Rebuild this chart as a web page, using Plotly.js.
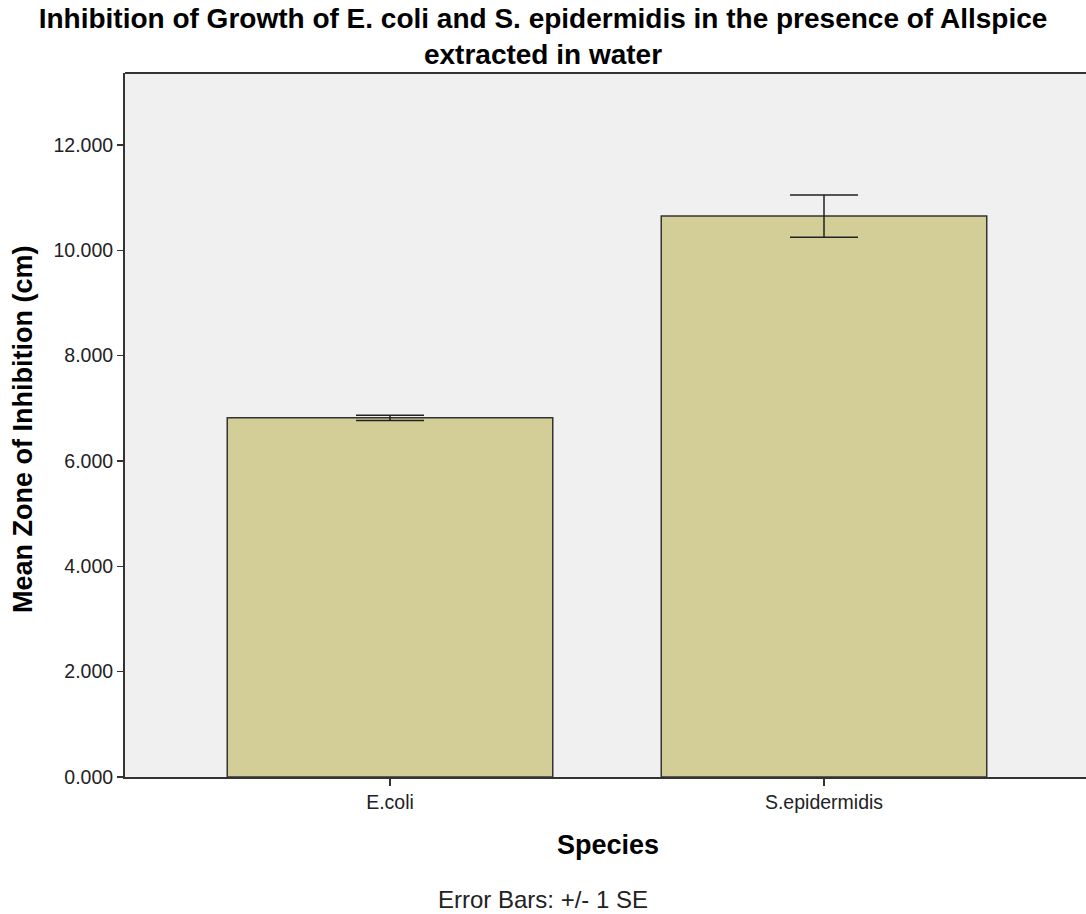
<!DOCTYPE html>
<html>
<head>
<meta charset="utf-8">
<script src="https://cdn.plot.ly/plotly-3.0.1.min.js"></script>
<style>html,body{margin:0;padding:0;background:#fff;}#chart{width:1086px;height:914px;}</style>
</head>
<body>
<div id="chart"></div>
<script>
const species = ["E.coli", "S.epidermidis"];
const meanZone = [6.82, 10.65];
const stdError = [0.05, 0.40];
const yTickValues = [0, 2, 4, 6, 8, 10, 12];

const FONT = "Liberation Sans, Arial, sans-serif";

const trace = {
  type: "bar",
  x: species,
  y: meanZone,
  width: 0.75,
  marker: {color: "#d3ce97", line: {color: "#333333", width: 1.5}},
  error_y: {type: "data", array: stdError, visible: true, color: "#222222", thickness: 1.5, width: 34},
  hoverinfo: "x+y"
};

const layout = {
  width: 1086,
  height: 914,
  margin: {l: 125, r: 0, t: 73, b: 137},
  paper_bgcolor: "#ffffff",
  plot_bgcolor: "#f0f0f0",
  showlegend: false,
  title: {
    text: "<b>Inhibition of Growth of E. coli and S. epidermidis in the presence of Allspice<br>extracted in water</b>",
    font: {family: FONT, size: 28, color: "#000"},
    x: 0.5, xref: "container", xanchor: "center",
    y: 0.9694, yref: "container", yanchor: "middle"
  },
  xaxis: {
    type: "category",
    range: [-0.6106, 1.6037],
    showline: true, linecolor: "#333333", linewidth: 2,
    ticks: "outside", ticklen: 7, tickcolor: "#333333", tickwidth: 1.5,
    tickfont: {family: FONT, size: 19.5, color: "#222"},
    showgrid: false, zeroline: false, fixedrange: true
  },
  yaxis: {
    range: [0, 13.367],
    tickvals: yTickValues,
    tickformat: ".3f",
    showline: true, linecolor: "#333333", linewidth: 2,
    ticks: "outside", ticklen: 6, tickcolor: "#333333", tickwidth: 1.5,
    tickfont: {family: FONT, size: 19.5, color: "#222"},
    showgrid: false, zeroline: false, fixedrange: true
  },
  shapes: [
    {type: "line", xref: "paper", yref: "paper", x0: 0, x1: 1, y0: 1, y1: 1, line: {color: "#333333", width: 2}}
  ],
  annotations: [
    {text: "<b>Mean Zone of Inhibition (cm)</b>", xref: "paper", yref: "paper", x: -0.106, y: 0.493,
     textangle: -90, showarrow: false, xanchor: "center", yanchor: "middle",
     font: {family: FONT, size: 27, color: "#000"}},
    {text: "<b>Species</b>", xref: "paper", yref: "paper", x: 0.5026, y: -0.0966,
     showarrow: false, xanchor: "center", yanchor: "middle",
     font: {family: FONT, size: 27, color: "#000"}},
    {text: "Error Bars: +/- 1 SE", xref: "paper", yref: "paper", x: 0.435, y: -0.1747,
     showarrow: false, xanchor: "center", yanchor: "middle",
     font: {family: FONT, size: 24, color: "#222"}}
  ]
};

Plotly.newPlot("chart", [trace], layout, {displayModeBar: false, staticPlot: true});
</script>
</body>
</html>
